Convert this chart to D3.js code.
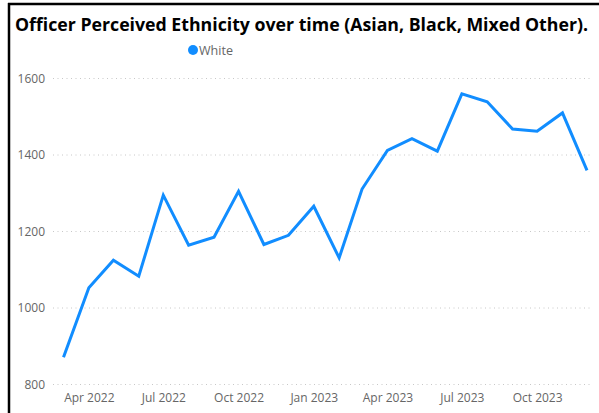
<!DOCTYPE html>
<html>
<head>
<meta charset="utf-8">
<script src="https://cdn.jsdelivr.net/npm/d3@7"></script>
<style>
  html, body { margin: 0; padding: 0; background: #fff; }
  svg { display: block; }
</style>
</head>
<body>
<svg id="chart" width="599" height="413"></svg>
<script>
const titleText = "Officer Perceived Ethnicity over time (Asian, Black, Mixed Other).";
const seriesName = "White";
const months = ["2022-03","2022-04","2022-05","2022-06","2022-07","2022-08","2022-09","2022-10","2022-11","2022-12",
                "2023-01","2023-02","2023-03","2023-04","2023-05","2023-06","2023-07","2023-08","2023-09","2023-10","2023-11","2023-12"];
const values = [871,1053,1125,1083,1295,1164,1185,1305,1166,1190,1266,1131,1311,1412,1443,1410,1560,1539,1468,1462,1510,1360];
const yTicks = [800,1000,1200,1400,1600];
const xTickMonths = ["2022-04","2022-07","2022-10","2023-01","2023-04","2023-07","2023-10"];

const parse = d3.timeParse("%Y-%m");
const data = months.map((m,i) => ({date: parse(m), value: values[i]}));

const svg = d3.select("#chart");
const color = "#118DFF";

// frame
svg.append("line").attr("x1",9).attr("x2",9).attr("y1",3).attr("y2",413).attr("stroke","#000").attr("stroke-width",2.5);
svg.append("line").attr("x1",8).attr("x2",599).attr("y1",4).attr("y2",4).attr("stroke","#000").attr("stroke-width",2.5);

// title
svg.append("text").attr("x",15).attr("y",31)
  .attr("font-family","Open Sans, sans-serif").attr("font-weight","bold").attr("font-size",18)
  .attr("fill","#000").attr("textLength",573).attr("lengthAdjust","spacingAndGlyphs")
  .text(titleText);

// legend
svg.append("circle").attr("cx",193).attr("cy",50).attr("r",5).attr("fill",color);
svg.append("text").attr("x",199).attr("y",54.5)
  .attr("font-family","Open Sans, sans-serif").attr("font-size",12.5).attr("fill","#666")
  .attr("textLength",34).attr("lengthAdjust","spacingAndGlyphs")
  .text(seriesName);

const x = d3.scaleTime().domain([data[0].date, data[data.length-1].date]).range([63.5, 587]);
const y = d3.scaleLinear().domain([800,1600]).range([384.5, 78.5]);

// grid lines
const grid = svg.append("g");
grid.selectAll("line").data(yTicks).join("line")
  .attr("x1",53).attr("x2",591)
  .attr("y1",d=>y(d)).attr("y2",d=>y(d))
  .attr("stroke","#c8c8c8").attr("stroke-width",1).attr("stroke-dasharray","1,3.5");

// y axis
const yAxis = svg.append("g").attr("transform","translate(45,0)")
  .call(d3.axisLeft(y).tickValues(yTicks).tickSize(0).tickPadding(0).tickFormat(d3.format("d")));
yAxis.select(".domain").remove();
yAxis.selectAll("text").attr("font-family","Open Sans, sans-serif").attr("font-size",12).attr("fill","#666");

// x axis
const xAxis = svg.append("g").attr("transform","translate(0,390)")
  .call(d3.axisBottom(x).tickValues(xTickMonths.map(parse)).tickSize(0).tickPadding(3).tickFormat(d3.timeFormat("%b %Y")));
xAxis.select(".domain").remove();
xAxis.selectAll("text").attr("font-family","Open Sans, sans-serif").attr("font-size",12).attr("fill","#666");

// line
svg.append("path").datum(data)
  .attr("fill","none").attr("stroke",color).attr("stroke-width",3).attr("stroke-linejoin","miter")
  .attr("d", d3.line().x(d=>x(d.date)).y(d=>y(d.value)));
</script>
</body>
</html>
